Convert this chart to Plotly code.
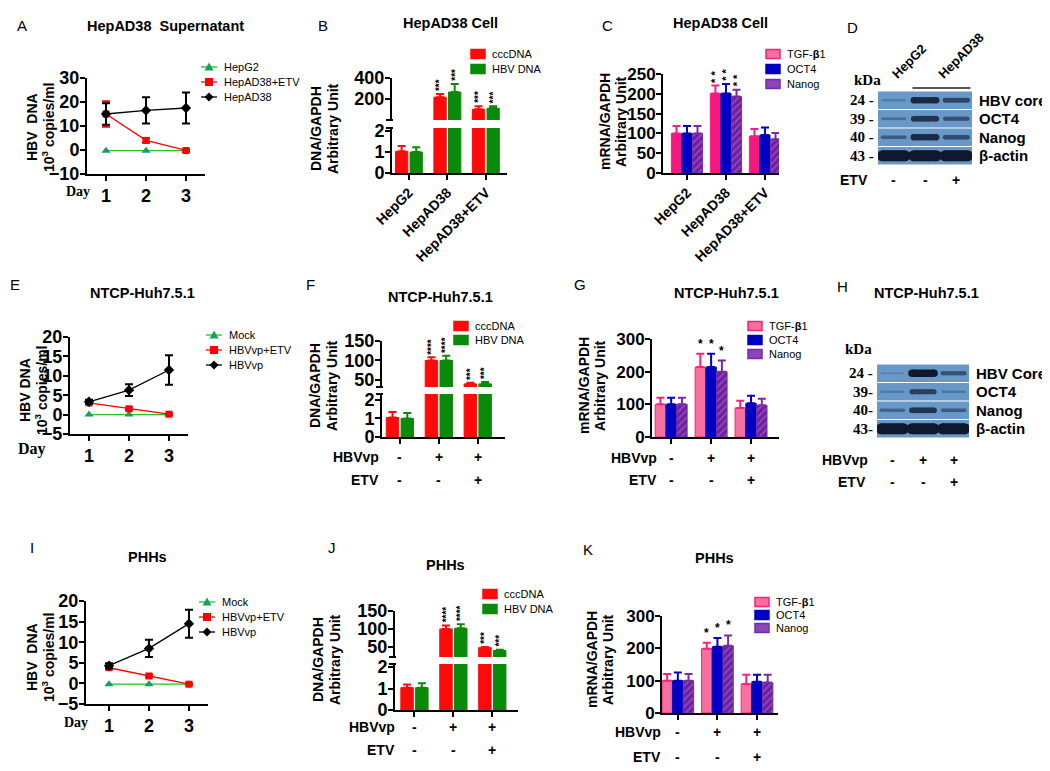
import plotly.graph_objects as go

# page is 1050x771; the html body keeps an 8px margin at the top-left
W, H = 1050, 771
PAD = 8
FW, FH = W - PAD, H - PAD
SANS = "Liberation Sans, Arial, sans-serif"
SERIF = "Liberation Serif, Times New Roman, serif"

# ---------------- data ----------------
days = [1, 2, 3]

a_names = ["HepG2", "HepAD38+ETV", "HepAD38"]
a_hepg2 = [-0.3, -0.3, -0.3]
a_etv = [15.0, 4.0, -0.2]
a_etv_sd = [5.3, 0.9, 0.4]
a_hepad38 = [15.0, 16.5, 17.5]
a_hepad38_sd = [4.5, 5.5, 6.5]

vp_names = ["Mock", "HBVvp+ETV", "HBVvp"]
e_mock = [0.0, 0.0, 0.0]
e_etv = [3.0, 1.5, 0.1]
e_etv_sd = [0.3, 0.3, 0.2]
e_hbvvp = [3.3, 6.3, 11.5]
e_hbvvp_sd = [0.5, 1.5, 3.8]

i_mock = [-0.2, -0.2, -0.2]
i_etv = [3.8, 1.8, -0.2]
i_etv_sd = [0.3, 0.3, 0.2]
i_hbvvp = [4.3, 8.5, 14.5]
i_hbvvp_sd = [0.6, 2.1, 3.4]

cell_groups = ["HepG2", "HepAD38", "HepAD38+ETV"]
dna_names = ["cccDNA", "HBV DNA"]
b_ccc = [1.03, 219, 105]
b_ccc_sd = [0.25, 30, 28]
b_hbv = [1.0, 267, 114]
b_hbv_sd = [0.22, 76, 19]
b_sig = ["", "***", "***"]

mrna_names = ["TGF-<b>β</b>1", "OCT4", "Nanog"]
c_tgf = [100, 201, 93]
c_tgf_sd = [19, 20, 18]
c_oct4 = [100, 201, 96]
c_oct4_sd = [19, 24, 19]
c_nanog = [100, 193, 85]
c_nanog_sd = [19, 17, 16]
c_sig = ["", "* *", ""]

hbvvp_row = ["-", "+", "+"]
etv_row = ["-", "-", "+"]

f_ccc = [1.05, 100, 40]
f_ccc_sd = [0.3, 8, 3]
f_hbv = [1.0, 100, 40]
f_hbv_sd = [0.3, 12, 5]
f_sig = ["", "****", "***"]

g_tgf = [100, 214, 89]
g_tgf_sd = [20, 41, 22]
g_oct4 = [100, 214, 103]
g_oct4_sd = [20, 41, 23]
g_nanog = [100, 200, 97]
g_nanog_sd = [20, 34, 20]
g_sig = ["", "*", ""]

j_ccc = [1.04, 100, 48]
j_ccc_sd = [0.15, 10, 2]
j_hbv = [1.04, 102, 40]
j_hbv_sd = [0.2, 11, 2]
j_sig = ["", "****", "***"]

k_tgf = [100, 199, 90]
k_tgf_sd = [21, 18, 28]
k_oct4 = [100, 205, 97]
k_oct4_sd = [25, 27, 21]
k_nanog = [100, 208, 94]
k_nanog_sd = [21, 32, 24]
k_sig = ["", "*", ""]

# western blots: relative band strength per row (lanes 1-3)
d_proteins = ["HBV core", "OCT4", "Nanog", "β-actin"]
d_kda = ["24 -", "39 -", "40 -", "43 -"]
d_bands = [[0.1, 0.8, 0.55], [0.2, 0.7, 0.45], [0.35, 0.8, 0.5], [1.6, 1.6, 1.6]]
d_lane_groups = ["HepG2", "HepAD38"]
d_etv = ["-", "-", "+"]

h_proteins = ["HBV Core", "OCT4", "Nanog", "β-actin"]
h_kda = ["24 -", "39-", "40-", "43-"]
h_bands = [[0.04, 1.0, 0.45], [0.12, 0.6, 0.15], [0.3, 0.7, 0.35], [1.6, 1.6, 1.6]]

# ---------------- helpers ----------------
fig = go.Figure()
lay = {}
shapes = []
notes = []


def fx(p):
    return (p - PAD) / FW


def fy(p):
    return 1 - (p - PAD) / FH


def aname(kind, n):
    return kind if n == 1 else f"{kind}{n}"


def akey(kind, n):
    return kind + "axis" + ("" if n == 1 else str(n))


TICKF = dict(family=SANS, size=18, color="black", weight="bold")
BASE = dict(showline=True, linewidth=2, linecolor="black", ticks="outside",
            ticklen=5, tickwidth=2, tickcolor="black", showgrid=False,
            zeroline=False, fixedrange=True, tickfont=TICKF, automargin=False)


def set_x(n, left, right, rng, yn, **kw):
    d = dict(BASE)
    d.update(domain=[fx(left), fx(right)], range=rng, anchor=aname("y", yn), ticklabelstandoff=-1)
    d.update(kw)
    lay[akey("x", n)] = d


def set_y(n, top, bot, rng, xn, **kw):
    d = dict(BASE)
    d.update(domain=[fy(bot), fy(top)], range=rng, anchor=aname("x", xn), ticklabelstandoff=-3)
    d.update(kw)
    lay[akey("y", n)] = d


def label(x, y, s, size=14, bold=True, family=SANS, xanchor="center", angle=0):
    notes.append(dict(xref="paper", yref="paper", x=fx(x), y=fy(y), text=s,
                      showarrow=False, xanchor=xanchor, yanchor="middle",
                      textangle=angle,
                      font=dict(family=family, size=size, color="black",
                                weight="bold" if bold else "normal")))


GREEN_L, GREEN_M = "#22c41c", "#15a060"
RED, BLACK = "#ff0000", "#000000"
LINE_STYLES = [(GREEN_L, GREEN_M, "triangle-up"), (RED, RED, "square"), (BLACK, BLACK, "diamond")]


def line_panel(xn, yn, series):
    for (vals, sd), (lc, mc, sym) in zip(series, LINE_STYLES):
        fig.add_trace(go.Scatter(
            x=days, y=vals, xaxis=aname("x", xn), yaxis=aname("y", yn),
            mode="lines+markers", line=dict(color=lc, width=1.3),
            marker=dict(symbol=sym, size=8 if sym != "square" else 7, color=mc),
            error_y=dict(type="data", array=sd or [0, 0, 0], visible=sd is not None,
                         color=lc, thickness=2, width=4),
            cliponaxis=False, showlegend=False, hoverinfo="skip"))


def marker_shape(cx, cy, sym, color):
    if sym == "square":
        shapes.append(dict(type="rect", xref="paper", yref="paper", x0=fx(cx - 4), x1=fx(cx + 4),
                           y0=fy(cy + 4), y1=fy(cy - 4), fillcolor=color, line=dict(width=0)))
    elif sym == "triangle-up":
        p = f"M {fx(cx - 4.5)} {fy(cy + 3.5)} L {fx(cx + 4.5)} {fy(cy + 3.5)} L {fx(cx)} {fy(cy - 4.5)} Z"
        shapes.append(dict(type="path", xref="paper", yref="paper", path=p, fillcolor=color, line=dict(width=0)))
    else:
        p = f"M {fx(cx - 4.5)} {fy(cy)} L {fx(cx)} {fy(cy - 4.5)} L {fx(cx + 4.5)} {fy(cy)} L {fx(cx)} {fy(cy + 4.5)} Z"
        shapes.append(dict(type="path", xref="paper", yref="paper", path=p, fillcolor=color, line=dict(width=0)))


def line_legend(x, ys, names):
    for yy, nm, (lc, mc, sym) in zip(ys, names, LINE_STYLES):
        shapes.append(dict(type="line", xref="paper", yref="paper", x0=fx(x - 8), x1=fx(x + 8),
                           y0=fy(yy), y1=fy(yy), line=dict(color=lc, width=1.3)))
        marker_shape(x, yy, sym, mc)
        label(x + 13, yy, nm, size=11, bold=False, xanchor="left")


RED_BAR = dict(fill="#ff0a0a", edge="#ff0a0a")
GREEN_BAR = dict(fill="#0a8a0a", edge="#0a8a0a")
PINK_DEEP = dict(fill="#f5197f", edge="#ff1a85")
PINK_SOFT = dict(fill="#f6719d", edge="#ff1f78")
BLUE_BAR = dict(fill="#0000c2", edge="#0000c8")
PURPLE_BAR = dict(fill="#6e1f9e", edge="#7a2aa8",
                  pattern=dict(shape="/", fgcolor="#a777cf", size=5, solidity=0.35))


def bars(xn, yns, series, styles, offsets, width, top_min=None):
    for (vals, sd), st, off in zip(series, styles, offsets):
        for k, yn in enumerate(yns):
            ys = vals
            if k > 0:
                # upper segment of a broken axis only shows bars that reach it
                ys = [v if v > top_min else None for v in vals]
            fig.add_trace(go.Bar(
                x=list(range(len(vals))), y=ys, xaxis=aname("x", xn), yaxis=aname("y", yn),
                width=width, offset=off,
                marker=dict(color=st["fill"], line=dict(color=st["edge"], width=1),
                            pattern=st.get("pattern")),
                error_y=dict(type="data", array=sd, arrayminus=[0] * len(sd), symmetric=False,
                             color=st["edge"], thickness=2, width=4),
                showlegend=False, hoverinfo="skip"))


def stars(xn, yn, vals, sd, marks, off, width, size=10, vertical=True):
    for i, (v, s, m) in enumerate(zip(vals, sd, marks)):
        if not m:
            continue
        notes.append(dict(xref=aname("x", xn), yref=aname("y", yn), x=i + off + width / 2, y=v + s,
                          text=m, showarrow=False, xanchor="center", yanchor="bottom",
                          textangle=-90 if vertical else 0, yshift=1,
                          font=dict(family=SANS, size=size, color="black", weight="bold")))


def box_legend(x, ys, names, styles):
    for yy, nm, st in zip(ys, names, styles):
        fill = st["fill"] if "pattern" not in st else "#8a45b8"
        shapes.append(dict(type="rect", xref="paper", yref="paper", x0=fx(x), x1=fx(x + 14),
                           y0=fy(yy + 4.5), y1=fy(yy - 4.5), fillcolor=fill,
                           line=dict(color=st["edge"], width=1.5)))
        label(x + 19, yy, nm, size=11, bold=False, xanchor="left")


def cond_rows(xn, right, y_rows, names, rows):
    for yy, nm, row in zip(y_rows, names, rows):
        label(right, yy, nm, size=14, xanchor="right")
        for i, s in enumerate(row):
            notes.append(dict(xref=aname("x", xn), yref="paper", x=i, y=fy(yy), text=s,
                              showarrow=False, xanchor="center", yanchor="middle",
                              font=dict(family=SANS, size=14, color="black", weight="bold")))


def break_marks(ax_x, y_top_end, y_bot_start):
    for yy in (y_top_end, y_bot_start):
        shapes.append(dict(type="line", xref="paper", yref="paper", x0=fx(ax_x - 6), x1=fx(ax_x + 1),
                           y0=fy(yy), y1=fy(yy), line=dict(color="black", width=2)))


def yt2(x1, x2, yc, l1, l2, size=14):
    label(x1, yc, l1, size=size, angle=-90)
    label(x2, yc, l2, size=size, angle=-90)


BLOT_BG = (104, 152, 199)
BAND = (16, 24, 46)


def band_color(v):
    a = min(1.0, 0.15 + 0.9 * v)
    c = [round(b + (k - b) * a) for b, k in zip(BLOT_BG, BAND)]
    return f"rgb({c[0]},{c[1]},{c[2]})"


def blot(xn, yn, left, right, top, bot, bands, kda, prots, label_gap=5):
    set_x(xn, left, right, [0.5, 3.5], yn, visible=False)
    set_y(yn, top, bot, [len(bands) - 0.5, -0.5], xn, visible=False)
    xa, ya = aname("x", xn), aname("y", yn)
    for r, row in enumerate(bands):
        shapes.append(dict(type="rect", xref=xa, yref=ya, x0=0.5, x1=3.5, y0=r - 0.47, y1=r + 0.47,
                           fillcolor="rgb(%d,%d,%d)" % BLOT_BG, line=dict(width=0), layer="below"))
        for lane, v in enumerate(row, start=1):
            wpx = 1.5 + 6 * v
            col = band_color(v)
            fig.add_trace(go.Scatter(
                x=[lane - 0.36, lane + 0.36], y=[r, r], xaxis=xa, yaxis=ya, mode="lines+markers",
                line=dict(color=col, width=wpx),
                marker=dict(size=wpx, color=col, line=dict(width=0)),
                showlegend=False, hoverinfo="skip"))
        notes.append(dict(xref=xa, yref=ya, x=0.5, y=r, text=kda[r], showarrow=False,
                          xanchor="right", yanchor="middle", xshift=-2,
                          font=dict(family=SERIF, size=15, color="black", weight="bold")))
        notes.append(dict(xref=xa, yref=ya, x=3.5, y=r, text=prots[r], showarrow=False,
                          xanchor="left", yanchor="middle", xshift=label_gap,
                          font=dict(family=SANS, size=15, color="black", weight="bold")))


def lane_row(xn, yy, name, right, signs):
    label(right, yy, name, size=14, xanchor="right")
    for i, s in enumerate(signs, start=1):
        notes.append(dict(xref=aname("x", xn), yref="paper", x=i, y=fy(yy), text=s, showarrow=False,
                          xanchor="center", yanchor="middle",
                          font=dict(family=SANS, size=14, color="black", weight="bold")))


# ---------------- A ----------------
set_x(1, 87, 205, [0.525, 3.475], 1, tickvals=days)
set_y(1, 78, 174, [-10, 30], 1, tickvals=[-10, 0, 10, 20, 30])
line_panel(1, 1, [(a_hepg2, None), (a_etv, a_etv_sd), (a_hepad38, a_hepad38_sd)])
line_legend(209, [67, 82, 97], a_names)
label(22, 26, "A", size=15, bold=False)
label(165, 26, "HepAD38\u00a0 Supernatant", size=14.5)
yt2(32, 48, 127, "HBV  DNA", "10<sup>3</sup> copies/ml")
label(78, 192, "Day", size=14, family=SERIF)

# ---------------- B ----------------
two_off, two_w = [-0.35, 0.03], 0.32
set_x(2, 392, 507, [-0.44, 2.55], 2, tickvals=[0, 1, 2], ticktext=cell_groups, tickangle=-45,
      tickfont=dict(family=SANS, size=14, color="black", weight="bold"))
set_y(2, 128, 173, [0, 2.14], 2, tickvals=[0, 1, 2])
set_y(3, 78, 120, [3, 400], 2, tickvals=[200, 400])
bars(2, [2, 3], [(b_ccc, b_ccc_sd), (b_hbv, b_hbv_sd)], [RED_BAR, GREEN_BAR], two_off, two_w, top_min=3)
stars(2, 3, b_ccc, b_ccc_sd, b_sig, two_off[0], two_w)
stars(2, 3, b_hbv, b_hbv_sd, b_sig, two_off[1], two_w)
break_marks(392, 120, 128)
box_legend(471, [54, 69], dna_names, [RED_BAR, GREEN_BAR])
label(323, 26, "B", size=15, bold=False)
label(450, 23, "HepAD38 Cell", size=14.5)
yt2(316, 333, 129, "DNA/GAPDH", "Arbitrary Unit")

# ---------------- C ----------------
three_off, three_w = [-0.4, -0.13, 0.14], 0.26
set_x(3, 663, 779, [-0.615, 2.36], 4, tickvals=[0, 1, 2], ticktext=cell_groups, tickangle=-45,
      tickfont=dict(family=SANS, size=14, color="black", weight="bold"))
set_y(4, 74, 173, [0, 250], 3, tickvals=[0, 50, 100, 150, 200, 250], tickfont=dict(TICKF, size=17))
c_series = [(c_tgf, c_tgf_sd), (c_oct4, c_oct4_sd), (c_nanog, c_nanog_sd)]
bars(3, [4], c_series, [PINK_DEEP, BLUE_BAR, PURPLE_BAR], three_off, three_w)
for (v, s), off in zip(c_series, three_off):
    stars(3, 4, v, s, c_sig, off, three_w, size=11)
box_legend(766, [54, 69, 84], mrna_names, [PINK_SOFT, BLUE_BAR, PURPLE_BAR])
label(607, 26, "C", size=15, bold=False)
label(720, 23, "HepAD38 Cell", size=14.5)
yt2(605, 621, 122, "mRNA/GAPDH", "Arbitrary Unit")

# ---------------- D ----------------
blot(4, 5, 878, 972, 91, 165, d_bands, d_kda, d_proteins)
label(852, 27, "D", size=15, bold=False)
label(867, 80, "kDa", size=15, family=SERIF)
for i, g in enumerate(d_lane_groups):
    notes.append(dict(xref="x4", yref="paper", x=1 + 1.5 * i, y=fy(84), text=g, showarrow=False,
                      xanchor="left", yanchor="bottom", textangle=-45, xshift=-8,
                      font=dict(family=SANS, size=13, color="black", weight="bold")))
shapes.append(dict(type="line", xref="x4", yref="paper", x0=1.6, x1=3.45, y0=fy(88), y1=fy(88),
                   line=dict(color="#555555", width=2)))
lane_row(4, 180, "ETV", 870, d_etv)

# ---------------- E ----------------
set_x(5, 70, 188, [0.525, 3.475], 6, tickvals=days)
set_y(6, 337, 434, [-5, 20], 5, tickvals=[-5, 0, 5, 10, 15, 20])
line_panel(5, 6, [(e_mock, None), (e_etv, e_etv_sd), (e_hbvvp, e_hbvvp_sd)])
line_legend(214, [335, 350, 365], vp_names)
label(15, 285, "E", size=15, bold=False)
label(142, 293, "NTCP-Huh7.5.1", size=14.5)
yt2(25, 41, 390, "HBV DNA", "10<sup>3</sup> copies/ml")
label(32, 449, "Day", size=16, family=SERIF)

# ---------------- F ----------------
set_x(6, 382, 505, [-0.46, 2.7], 7, tickvals=[0, 1, 2], showticklabels=False)
set_y(7, 394, 437, [0, 2.32], 6, tickvals=[0, 1, 2])
set_y(8, 341, 387, [32, 150], 6, tickvals=[50, 100, 150])
bars(6, [7, 8], [(f_ccc, f_ccc_sd), (f_hbv, f_hbv_sd)], [RED_BAR, GREEN_BAR], two_off, two_w, top_min=32)
stars(6, 8, f_ccc, f_ccc_sd, f_sig, two_off[0], two_w)
stars(6, 8, f_hbv, f_hbv_sd, f_sig, two_off[1], two_w)
break_marks(382, 387, 394)
box_legend(454, [326, 340], dna_names, [RED_BAR, GREEN_BAR])
cond_rows(6, 381, [457, 480], ["HBVvp", "ETV"], [hbvvp_row, etv_row])
label(310, 285, "F", size=15, bold=False)
label(440, 297, "NTCP-Huh7.5.1", size=14.5)
yt2(315, 332, 386, "DNA/GAPDH", "Arbitrary Unit")

# ---------------- G ----------------
set_x(7, 652, 779, [-0.48, 2.7], 9, tickvals=[0, 1, 2], showticklabels=False)
set_y(9, 339, 437, [0, 300], 7, tickvals=[0, 100, 200, 300], tickfont=dict(TICKF, size=17))
g_series = [(g_tgf, g_tgf_sd), (g_oct4, g_oct4_sd), (g_nanog, g_nanog_sd)]
bars(7, [9], g_series, [PINK_SOFT, BLUE_BAR, PURPLE_BAR], three_off, three_w)
for (v, s), off in zip(g_series, three_off):
    stars(7, 9, v, s, g_sig, off, three_w, size=12, vertical=False)
box_legend(748, [326, 340, 354], mrna_names, [PINK_SOFT, BLUE_BAR, PURPLE_BAR])
cond_rows(7, 659, [458, 480], ["HBVvp", "ETV"], [hbvvp_row, etv_row])
label(580, 285, "G", size=15, bold=False)
label(727, 293, "NTCP-Huh7.5.1", size=14.5)
yt2(584, 600, 386, "mRNA/GAPDH", "Arbitrary Unit")

# ---------------- H ----------------
blot(8, 10, 877, 969, 364, 438, h_bands, h_kda, h_proteins)
label(842, 286, "H", size=15, bold=False)
label(926, 293, "NTCP-Huh7.5.1", size=14.5)
label(858, 349, "kDa", size=15, family=SERIF)
lane_row(8, 460, "HBVvp", 870, hbvvp_row)
lane_row(8, 482, "ETV", 868, etv_row)

# ---------------- I ----------------
set_x(9, 86, 208, [0.425, 3.475], 11, tickvals=days)
set_y(11, 601, 704, [-5, 20], 9, tickvals=[-5, 0, 5, 10, 15, 20])
line_panel(9, 11, [(i_mock, None), (i_etv, i_etv_sd), (i_hbvvp, i_hbvvp_sd)])
line_legend(207, [602, 617, 632], vp_names)
label(32, 547, "I", size=15, bold=False)
label(147, 557, "PHHs", size=14.5)
yt2(32, 48, 657, "HBV  DNA", "10<sup>3</sup> copies/ml")
label(76, 722, "Day", size=14, family=SERIF)

# ---------------- J ----------------
set_x(10, 395, 518, [-0.5, 2.66], 12, tickvals=[0, 1, 2], showticklabels=False)
set_y(12, 664, 710, [0, 2.14], 10, tickvals=[0, 1, 2])
set_y(13, 611, 657, [22, 150], 10, tickvals=[50, 100, 150])
bars(10, [12, 13], [(j_ccc, j_ccc_sd), (j_hbv, j_hbv_sd)], [RED_BAR, GREEN_BAR], two_off, two_w, top_min=22)
stars(10, 13, j_ccc, j_ccc_sd, j_sig, two_off[0], two_w)
stars(10, 13, j_hbv, j_hbv_sd, j_sig, two_off[1], two_w)
break_marks(395, 657, 664)
box_legend(483, [594, 609], dna_names, [RED_BAR, GREEN_BAR])
cond_rows(10, 397, [727, 750], ["HBVvp", "ETV"], [hbvvp_row, etv_row])
label(332, 547, "J", size=15, bold=False)
label(445, 565, "PHHs", size=14.5)
yt2(318, 335, 660, "DNA/GAPDH", "Arbitrary Unit")

# ---------------- K ----------------
set_x(11, 662, 778, [-0.4, 2.53], 14, tickvals=[0, 1, 2], showticklabels=False)
set_y(14, 616, 713, [0, 300], 11, tickvals=[0, 100, 200, 300], tickfont=dict(TICKF, size=17))
k_series = [(k_tgf, k_tgf_sd), (k_oct4, k_oct4_sd), (k_nanog, k_nanog_sd)]
bars(11, [14], k_series, [PINK_SOFT, BLUE_BAR, PURPLE_BAR], three_off, three_w)
for (v, s), off in zip(k_series, three_off):
    stars(11, 14, v, s, k_sig, off, three_w, size=12, vertical=False)
box_legend(755, [602, 615, 628], mrna_names, [PINK_SOFT, BLUE_BAR, PURPLE_BAR])
cond_rows(11, 663, [732, 757], ["HBVvp", "ETV"], [hbvvp_row, etv_row])
label(588, 549, "K", size=15, bold=False)
label(714, 558, "PHHs", size=14.5)
yt2(592, 608, 660, "mRNA/GAPDH", "Arbitrary Unit")

fig.update_layout(
    width=FW, height=FH, autosize=False,
    margin=dict(l=0, r=0, t=0, b=0, pad=0),
    paper_bgcolor="white", plot_bgcolor="white",
    showlegend=False, shapes=shapes, annotations=notes,
    font=dict(family=SANS, color="black"),
    **lay)

fig.write_html("out.html")
